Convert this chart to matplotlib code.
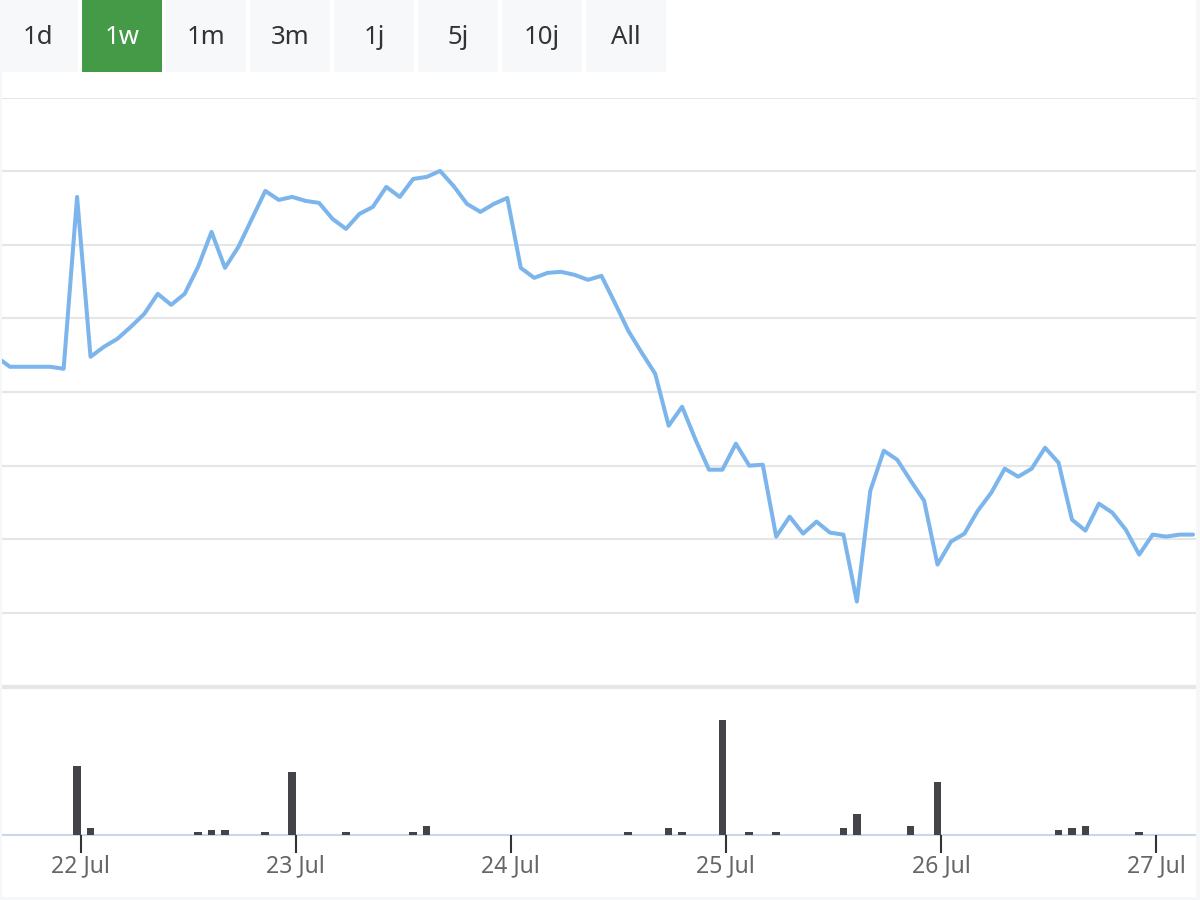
import matplotlib
matplotlib.use('Agg')
import matplotlib.pyplot as plt
from matplotlib.patches import Rectangle
import numpy as np
import pandas as pd

plt.rcParams['font.family'] = ['Noto Sans', 'DejaVu Sans']

# ---------------- data ----------------
range_buttons = ['1d', '1w', '1m', '3m', '1j', '5j', '10j', 'All']
selected_button = '1w'

times = pd.date_range('2024-07-21 14:37', periods=90, freq='90min')

prices = [
    63.0, 62.0, 62.0, 62.0, 62.0, 61.8,
    79.0, 63.0, 64.0, 64.8, 66.0, 67.3, 69.3, 68.2, 69.3, 72.0,
    75.5, 71.9, 74.0, 76.8, 79.6, 78.7, 79.0, 78.6, 78.4, 76.8,
    75.8, 77.3, 78.0, 80.0, 79.0, 80.8, 81.0, 81.6, 80.1, 78.3,
    77.5, 78.3, 78.9, 71.9, 70.9, 71.4, 71.5, 71.2, 70.7, 71.1,
    68.4, 65.6, 63.4, 61.3, 56.1, 58.0, 54.7, 51.7, 51.7, 54.3,
    52.1, 52.2, 45.0, 47.0, 45.3, 46.5, 45.4, 45.2, 38.5, 49.6,
    53.6, 52.7, 50.6, 48.6, 42.2, 44.5, 45.3, 47.6, 49.4, 51.8,
    51.0, 51.8, 53.9, 52.4, 46.7, 45.6, 48.3, 47.4, 45.7, 43.2,
    45.2, 45.0, 45.2, 45.2,
]

volumes = [
    0, 0, 0, 0, 0, 0,
    6800, 600, 0, 0, 0, 0, 0, 0, 0, 200,
    400, 400, 0, 0, 200, 0, 6200, 0, 0, 0,
    200, 0, 0, 0, 0, 200, 800, 0, 0, 0,
    0, 0, 0, 0, 0, 0, 0, 0, 0, 0,
    0, 200, 0, 0, 600, 200, 0, 0, 11400, 0,
    200, 0, 200, 0, 0, 0, 0, 600, 2000, 0,
    0, 0, 800, 0, 5200, 0, 0, 0, 0, 0,
    0, 0, 0, 400, 600, 800, 0, 0, 0, 200,
    0, 0, 0, 0,
]

date_ticks = pd.to_datetime(['2024-07-22', '2024-07-23', '2024-07-24',
                             '2024-07-25', '2024-07-26', '2024-07-27'])
date_tick_labels = ['22 Jul', '23 Jul', '24 Jul', '25 Jul', '26 Jul', '27 Jul']

view_start = pd.Timestamp('2024-07-21 15:01')
view_end = pd.Timestamp('2024-07-27 04:54')
price_range = (30.0, 88.95)
volume_range = (0, 14400)

# ---------------- figure ----------------
W, H = 1200, 900
fig = plt.figure(figsize=(12, 9), dpi=100)
fig.patch.set_facecolor('white')


def fy(px):
    return 1 - px / H


# price pane
ax = fig.add_axes([0, fy(686.5), 1, (686.5 - 97.5) / H])
ax.plot(times, prices, color='#7cb5ec', lw=2.9, solid_joinstyle='round',
        solid_capstyle='round', zorder=3)
ax.set_xlim(view_start, view_end)
ax.set_ylim(*price_range)
ax.set_yticks(np.linspace(price_range[0], price_range[1], 9))
ax.grid(axis='y', color='#e6e6e6', lw=1.5)
ax.set_axisbelow(True)
ax.tick_params(left=False, labelleft=False, bottom=False, labelbottom=False)
for s in ['top', 'left', 'right']:
    ax.spines[s].set_visible(False)
ax.spines['bottom'].set_color('#e6e6e6')
ax.spines['bottom'].set_linewidth(3)

# volume pane
ax2 = fig.add_axes([0, fy(834.5), 1, (834.5 - 690) / H])
ax2.bar(times, volumes, width=0.0358, color='#434348', zorder=2)
ax2.set_xlim(view_start, view_end)
ax2.set_ylim(*volume_range)
ax2.set_yticks([])
for s in ['top', 'left', 'right']:
    ax2.spines[s].set_visible(False)
ax2.spines['bottom'].set_color('#ccd6eb')
ax2.spines['bottom'].set_linewidth(1.5)
ax2.spines['bottom'].set_zorder(1)
ax2.set_xticks(date_ticks)
ax2.set_xticklabels(date_tick_labels)
ax2.tick_params(axis='x', direction='out', length=13, width=1.5,
                color='#333333', labelsize=16.5, labelcolor='#666666', pad=1)

# range selector buttons
for i, lab in enumerate(range_buttons):
    x0 = 84 * i - 2
    sel = lab == selected_button
    fig.patches.append(Rectangle((x0 / W, fy(72)), 80 / W, 72 / H,
                                 transform=fig.transFigure,
                                 facecolor='#449a47' if sel else '#f7f8fa',
                                 edgecolor='none'))
    fig.text((x0 + 40) / W, fy(37.5), lab, ha='center', va='center',
             fontsize=18.5, color='white' if sel else '#333333')

# faint outer borders
for (x, y, w, h) in [(0, 72, 2, 828), (1196, 0, 4, 900), (0, 897, 1200, 3)]:
    fig.patches.append(Rectangle((x / W, fy(y + h)), w / W, h / H,
                                 transform=fig.transFigure,
                                 facecolor='#f6f7f8', edgecolor='none'))

fig.savefig('out.png', dpi=100)
